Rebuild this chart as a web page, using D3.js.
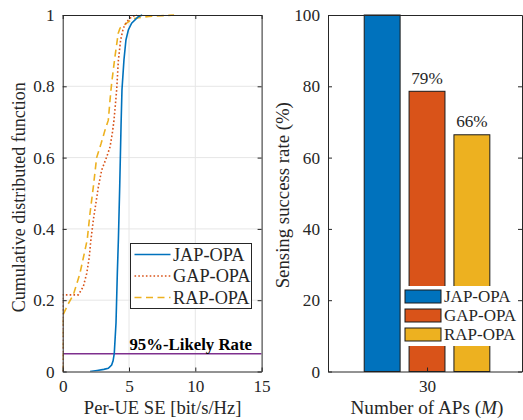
<!DOCTYPE html>
<html>
<head>
<meta charset="utf-8">
<script src="https://cdn.jsdelivr.net/npm/d3@7"></script>
<style>
  html, body { margin: 0; padding: 0; background: #fff; }
</style>
</head>
<body>
<svg id="fig" width="523" height="420"></svg>
<script>
// ---- CDF of per-UE spectral efficiency (left panel) ----
const seriesNames = ["JAP-OPA", "GAP-OPA", "RAP-OPA"];
const seriesColors = ["#0072BD", "#D95319", "#EDB120"];

// [SE (bit/s/Hz), cumulative probability]
const japCdf = [
  [2.06, 0], [2.6, 0.003], [3.1, 0.006], [3.44, 0.009], [3.69, 0.018], [3.8, 0.03],
  [3.89, 0.051], [4.02, 0.136], [4.12, 0.276], [4.2, 0.37], [4.3, 0.52], [4.4, 0.69],
  [4.47, 0.79], [4.62, 0.874], [4.77, 0.93], [4.95, 0.958], [5.2, 0.977], [5.7, 0.995], [6.0, 1]
];
const gapCdf = [
  [0, 0], [0, 0.215], [1.18, 0.215], [1.55, 0.238], [1.81, 0.275], [2.0, 0.32], [2.1, 0.36],
  [2.31, 0.425], [2.69, 0.518], [2.94, 0.565], [3.32, 0.602], [3.57, 0.63], [3.74, 0.668],
  [3.87, 0.705], [4.07, 0.79], [4.2, 0.874], [4.37, 0.93], [4.57, 0.963], [4.82, 0.981],
  [5.2, 0.995], [5.6, 1]
];
const rapCdf = [
  [0, 0], [0, 0.157], [0.42, 0.19], [0.8, 0.215], [1.3, 0.275], [1.68, 0.34], [1.85, 0.37],
  [2.06, 0.444], [2.31, 0.518], [2.56, 0.6], [2.9, 0.64], [3.19, 0.677], [3.44, 0.705],
  [3.57, 0.762], [3.69, 0.808], [3.94, 0.883], [4.19, 0.949], [4.32, 0.963], [4.82, 0.977],
  [5.3, 0.99], [6.5, 0.996], [8.4, 1]
];
const cdfSeries = [japCdf, gapCdf, rapCdf];
const likelyLevel = 0.05;

const cdfXTicks = [0, 5, 10, 15];
const cdfYTicks = [0, 0.2, 0.4, 0.6, 0.8, 1];

// ---- Sensing success rate (right panel) ----
const apCount = 30;
const successRates = [100, 78.6, 66.4];
const rateYTicks = [0, 20, 40, 60, 80, 100];

const FONT = "'Liberation Serif', serif";
const svg = d3.select("#fig");
const axisColor = "#262626";
const textColor = "#262626";
const tickLen = 4;

// every label gets the serif face through an inline style
function setFont(sel, size) {
  return sel.style("font-family", FONT).style("font-size", size + "px").attr("fill", textColor);
}
function label(parent, size) {
  return setFont(parent.append("text"), size);
}

// ================= Left panel =================
const L = { left: 62.7, right: 261.6, top: 15, bottom: 371.5 };
const xL = d3.scaleLinear().domain([0, 15]).range([L.left, L.right]);
const yL = d3.scaleLinear().domain([0, 1]).range([L.bottom, L.top]);

const gL = svg.append("g");

// grid
gL.append("g").selectAll("line").data(cdfXTicks.slice(1, -1)).join("line")
  .attr("x1", d => xL(d)).attr("x2", d => xL(d))
  .attr("y1", L.top).attr("y2", L.bottom)
  .attr("stroke", "#e6e6e6").attr("stroke-width", 1);
gL.append("g").selectAll("line").data(cdfYTicks.slice(1, -1)).join("line")
  .attr("x1", L.left).attr("x2", L.right)
  .attr("y1", d => yL(d)).attr("y2", d => yL(d))
  .attr("stroke", "#e6e6e6").attr("stroke-width", 1);

svg.append("defs").append("clipPath").attr("id", "clipL")
  .append("rect").attr("x", L.left).attr("y", L.top - 2)
  .attr("width", L.right - L.left).attr("height", L.bottom - L.top + 2);

const lineGen = d3.line().x(d => xL(d[0])).y(d => yL(d[1]));
const dashes = [null, "1.6,2.2", "7,4.5"];
const plotL = gL.append("g").attr("clip-path", "url(#clipL)");

// 95%-likely reference line
plotL.append("line")
  .attr("x1", L.left).attr("x2", L.right)
  .attr("y1", yL(likelyLevel)).attr("y2", yL(likelyLevel))
  .attr("stroke", "#7E2F8E").attr("stroke-width", 1.6);

// draw in reverse so the solid curve sits on top
[2, 1, 0].forEach(i => {
  plotL.append("path").datum(cdfSeries[i])
    .attr("d", lineGen)
    .attr("fill", "none")
    .attr("stroke", seriesColors[i])
    .attr("stroke-width", 1.6)
    .attr("stroke-dasharray", dashes[i]);
});

label(gL, 16.8)
  .attr("x", 252).attr("y", 350)
  .attr("text-anchor", "end")
  .style("font-weight", "bold")
  .attr("fill", "#000")
  .text("95%-Likely Rate");

// axes (inward ticks, boxed)
const axL_b = d3.axisBottom(xL).tickValues(cdfXTicks).tickSizeInner(-tickLen).tickSizeOuter(0).tickPadding(8);
const axL_t = d3.axisTop(xL).tickValues(cdfXTicks).tickSizeInner(-tickLen).tickSizeOuter(0).tickFormat("");
const axL_l = d3.axisLeft(yL).tickValues(cdfYTicks).tickSizeInner(-tickLen).tickSizeOuter(0).tickPadding(8)
  .tickFormat(d => d === 0 || d === 1 ? d3.format("d")(d) : d3.format(".1f")(d));
const axL_r = d3.axisRight(yL).tickValues(cdfYTicks).tickSizeInner(-tickLen).tickSizeOuter(0).tickFormat("");

function styleAxis(g) {
  g.attr("font-family", null).attr("font-size", null);
  g.select(".domain").attr("stroke", axisColor).attr("stroke-width", 1);
  g.selectAll(".tick line").attr("stroke", axisColor);
  setFont(g.selectAll(".tick text"), 17.2);
}
gL.append("g").attr("transform", `translate(0,${L.bottom})`).call(axL_b).call(styleAxis);
gL.append("g").attr("transform", `translate(0,${L.top})`).call(axL_t).call(styleAxis);
gL.append("g").attr("transform", `translate(${L.left},0)`).call(axL_l).call(styleAxis);
gL.append("g").attr("transform", `translate(${L.right},0)`).call(axL_r).call(styleAxis);

label(gL, 18.6)
  .attr("x", (L.left + L.right) / 2 + 0.5).attr("y", 414)
  .attr("text-anchor", "middle")
  .text("Per-UE SE [bit/s/Hz]");
label(gL, 18)
  .attr("transform", `translate(25,${(L.top + L.bottom) / 2 + 4}) rotate(-90)`)
  .attr("text-anchor", "middle")
  .text("Cumulative distributed function");

// legend
const legL = gL.append("g").attr("transform", "translate(130.5,243.5)");
legL.append("rect").attr("width", 121).attr("height", 65)
  .attr("fill", "#fff").attr("stroke", axisColor).attr("stroke-width", 1);
seriesNames.forEach((name, i) => {
  const cy = 11 + i * 21.5;
  legL.append("line").attr("x1", 4).attr("x2", 40).attr("y1", cy).attr("y2", cy)
    .attr("stroke", seriesColors[i]).attr("stroke-width", 1.6)
    .attr("stroke-dasharray", dashes[i]);
  label(legL, 18.3).attr("x", 42.5).attr("y", cy + 6).text(name);
});

// ================= Right panel =================
const R = { left: 328, right: 522, top: 15, bottom: 371.5 };
const xR = d3.scaleLinear().domain([29.51, 30.47]).range([R.left, R.right]);
const yR = d3.scaleLinear().domain([0, 100]).range([R.bottom, R.top]);
const slot = 0.222;            // grouped-bar slot width in x units
const barW = slot * 0.8;

const gR = svg.append("g");

gR.selectAll("rect.bar").data(successRates).join("rect")
  .attr("class", "bar")
  .attr("x", (d, i) => xR(apCount + (i - 1) * slot - barW / 2))
  .attr("width", xR(apCount + barW / 2) - xR(apCount - barW / 2))
  .attr("y", d => yR(d))
  .attr("height", d => yR(0) - yR(d))
  .attr("fill", (d, i) => seriesColors[i])
  .attr("stroke", "#1a1a1a").attr("stroke-width", 1);

// value labels (not shown for the full-height bar)
successRates.forEach((v, i) => {
  if (v >= 100) return;
  label(gR, 17.2)
    .attr("x", xR(apCount + (i - 1) * slot))
    .attr("y", yR(v) - 7.5)
    .attr("text-anchor", "middle")
    .text(d3.format(".0f")(v) + "%");
});

const axR_b = d3.axisBottom(xR).tickValues([apCount]).tickFormat(d3.format("d"))
  .tickSizeInner(-tickLen).tickSizeOuter(0).tickPadding(8);
const axR_t = d3.axisTop(xR).tickValues([]).tickSizeOuter(0);
const axR_l = d3.axisLeft(yR).tickValues(rateYTicks).tickSizeInner(-tickLen).tickSizeOuter(0).tickPadding(8);
const axR_r = d3.axisRight(yR).tickValues(rateYTicks).tickSizeInner(-tickLen).tickSizeOuter(0).tickFormat("");

gR.append("g").attr("transform", `translate(0,${R.bottom})`).call(axR_b).call(styleAxis);
gR.append("g").attr("transform", `translate(0,${R.top})`).call(axR_t).call(styleAxis);
gR.append("g").attr("transform", `translate(${R.left},0)`).call(axR_l).call(styleAxis);
gR.append("g").attr("transform", `translate(${R.right},0)`).call(axR_r).call(styleAxis);

const xlab = label(gR, 19.2)
  .attr("x", 427).attr("y", 414)
  .attr("text-anchor", "middle");
xlab.append("tspan").text("Number of APs (");
xlab.append("tspan").style("font-style", "italic").text("M");
xlab.append("tspan").text(")");

label(gR, 18.8)
  .attr("transform", `translate(289,${(R.top + R.bottom) / 2 + 2}) rotate(-90)`)
  .attr("text-anchor", "middle")
  .text("Sensing success rate (%)");

// legend
const legR = gR.append("g").attr("transform", "translate(402,286)");
legR.append("rect").attr("width", 116).attr("height", 60).attr("fill", "#fff");
seriesNames.forEach((name, i) => {
  const top = 4 + i * 19;
  legR.append("rect").attr("x", 3).attr("y", top).attr("width", 36).attr("height", 13)
    .attr("fill", seriesColors[i]).attr("stroke", "#1a1a1a").attr("stroke-width", 1);
  label(legR, 17).attr("x", 42).attr("y", top + 12).text(name);
});
</script>
</body>
</html>
